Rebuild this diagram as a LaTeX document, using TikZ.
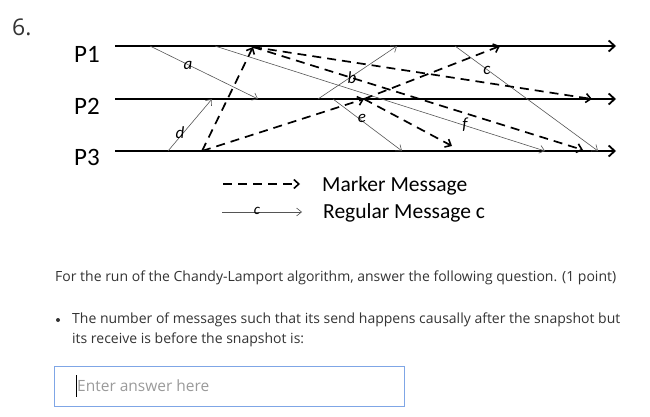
\documentclass[tikz,border=0pt]{standalone}
\usepackage{fontspec}
\setmainfont{Open Sans}
\newfontfamily\calfont{Carlito}
\usetikzlibrary{arrows.meta}
\definecolor{txt}{HTML}{333333}
\definecolor{boxblue}{HTML}{7FA6E6}
\definecolor{ph}{HTML}{9A9A9A}
\definecolor{reg}{HTML}{555555}
\tikzset{
  proc/.style={line width=1.8pt,-{Straight Barb[length=6pt,width=11pt,line width=1.8pt]}},
  regmsg/.style={reg,line width=0.6pt,-{Straight Barb[length=5pt,width=8pt,line width=0.6pt]}},
  marker/.style={black,line width=1.7pt,dash pattern=on 9pt off 6pt,-{Straight Barb[length=5pt,width=9pt,line width=1.6pt]}},
  plabel/.style={font=\calfont\fontsize{25}{28}\selectfont,inner sep=0pt},
  mlabel/.style={font=\calfont\itshape\fontsize{17}{19}\selectfont,inner sep=0pt},
  legtext/.style={font=\calfont\fontsize{21.5}{24}\selectfont,inner sep=0pt,anchor=west},
  qtext/.style={font=\fontsize{14}{17}\selectfont,text=txt,inner sep=0pt,anchor=west}
}
\begin{document}
\begin{tikzpicture}[x=1pt,y=-1pt]
\useasboundingbox (0,0) rectangle (650,417);
% title
\node[font=\fontsize{23}{26}\selectfont,text=txt,inner sep=0pt,anchor=west] (num) at (12,27) {6.};
% process lines
\coordinate (P1s) at (115,46); \coordinate (P1e) at (616,46);
\coordinate (P2s) at (115,99); \coordinate (P2e) at (616,99);
\coordinate (P3s) at (115,151); \coordinate (P3e) at (616,151);
\draw[proc] (P1s) -- (P1e);
\draw[proc] (P2s) -- (P2e);
\draw[proc] (P3s) -- (P3e);
\node[plabel] (L1) at (87,54) {P1};
\node[plabel] (L2) at (87,106) {P2};
\node[plabel] (L3) at (87,157) {P3};
% regular message endpoints
\coordinate (a1) at (150,46); \coordinate (a2) at (258,99);
\coordinate (d1) at (168,151); \coordinate (d2) at (212,99);
\coordinate (f1) at (215,46); \coordinate (f2) at (545,151);
\coordinate (b1) at (318,99); \coordinate (b2) at (397,46);
\coordinate (e1) at (333,99); \coordinate (e2) at (402,151);
\coordinate (c1) at (455,46); \coordinate (c2) at (598,151);
\draw[regmsg] (a1) -- (a2);
\draw[regmsg] (d1) -- (d2);
\draw[regmsg] (f1) -- (f2);
\draw[regmsg] (b1) -- (b2);
\draw[regmsg] (e1) -- (e2);
\draw[regmsg] (c1) -- (c2);
\node[mlabel] (la) at (188,65) {a};
\node[mlabel] (lb) at (352,78) {b};
\node[mlabel] (lc) at (487,70) {c};
\node[mlabel] (ld) at (180,133) {d};
\node[mlabel] (le) at (362,118) {e};
\node[mlabel] (lf) at (465,125) {f};
% marker messages
\coordinate (s3) at (202,151);
\coordinate (s1) at (253,47);
\coordinate (s2) at (364,99);
\coordinate (r12) at (592,99);
\coordinate (r13) at (583,150);
\coordinate (r21) at (500,46);
\coordinate (r23) at (452,146);
\draw[marker] (s3) -- (s1);
\draw[marker] (s3) -- (s2);
\draw[marker] (s1) -- (r12);
\draw[marker] (s1) -- (r13);
\draw[marker] (s2) -- (r21);
\draw[marker] (s2) -- (r23);
% legend
\coordinate (lm1) at (223,184); \coordinate (lm2) at (300,184);
\coordinate (lr1) at (222,212); \coordinate (lr2) at (302,212);
\draw[marker] (lm1) -- (lm2);
\draw[regmsg] (lr1) -- (lr2);
\node[font=\calfont\itshape\fontsize{15}{17}\selectfont,inner sep=0pt] (lcc) at (257,211) {c};
\node[legtext] (mm) at (322,186) {Marker Message};
\node[legtext] (rm) at (323,213) {Regular Message c};
% question text
\node[qtext] (q1) at (55,278) {For the run of the Chandy-Lamport algorithm, answer the following question. (1 point)};
\fill[txt] (58,320) circle (2pt);
\node[qtext] (q2) at (72,320) {The number of messages such that its send happens causally after the snapshot but};
\node[qtext] (q3) at (72,340) {its receive is before the snapshot is:};
% answer box
\node[draw=boxblue,line width=1.2pt,minimum width=350pt,minimum height=40pt,inner sep=0pt,anchor=north west] (box) at (54,366) {};
\node[font=\fontsize{15.5}{18}\selectfont,text=ph,inner sep=0pt,anchor=west] (phd) at (77,386) {Enter answer here};
\draw[black,line width=0.8pt] (76,375) -- (76,397);
\end{tikzpicture}
\end{document}
